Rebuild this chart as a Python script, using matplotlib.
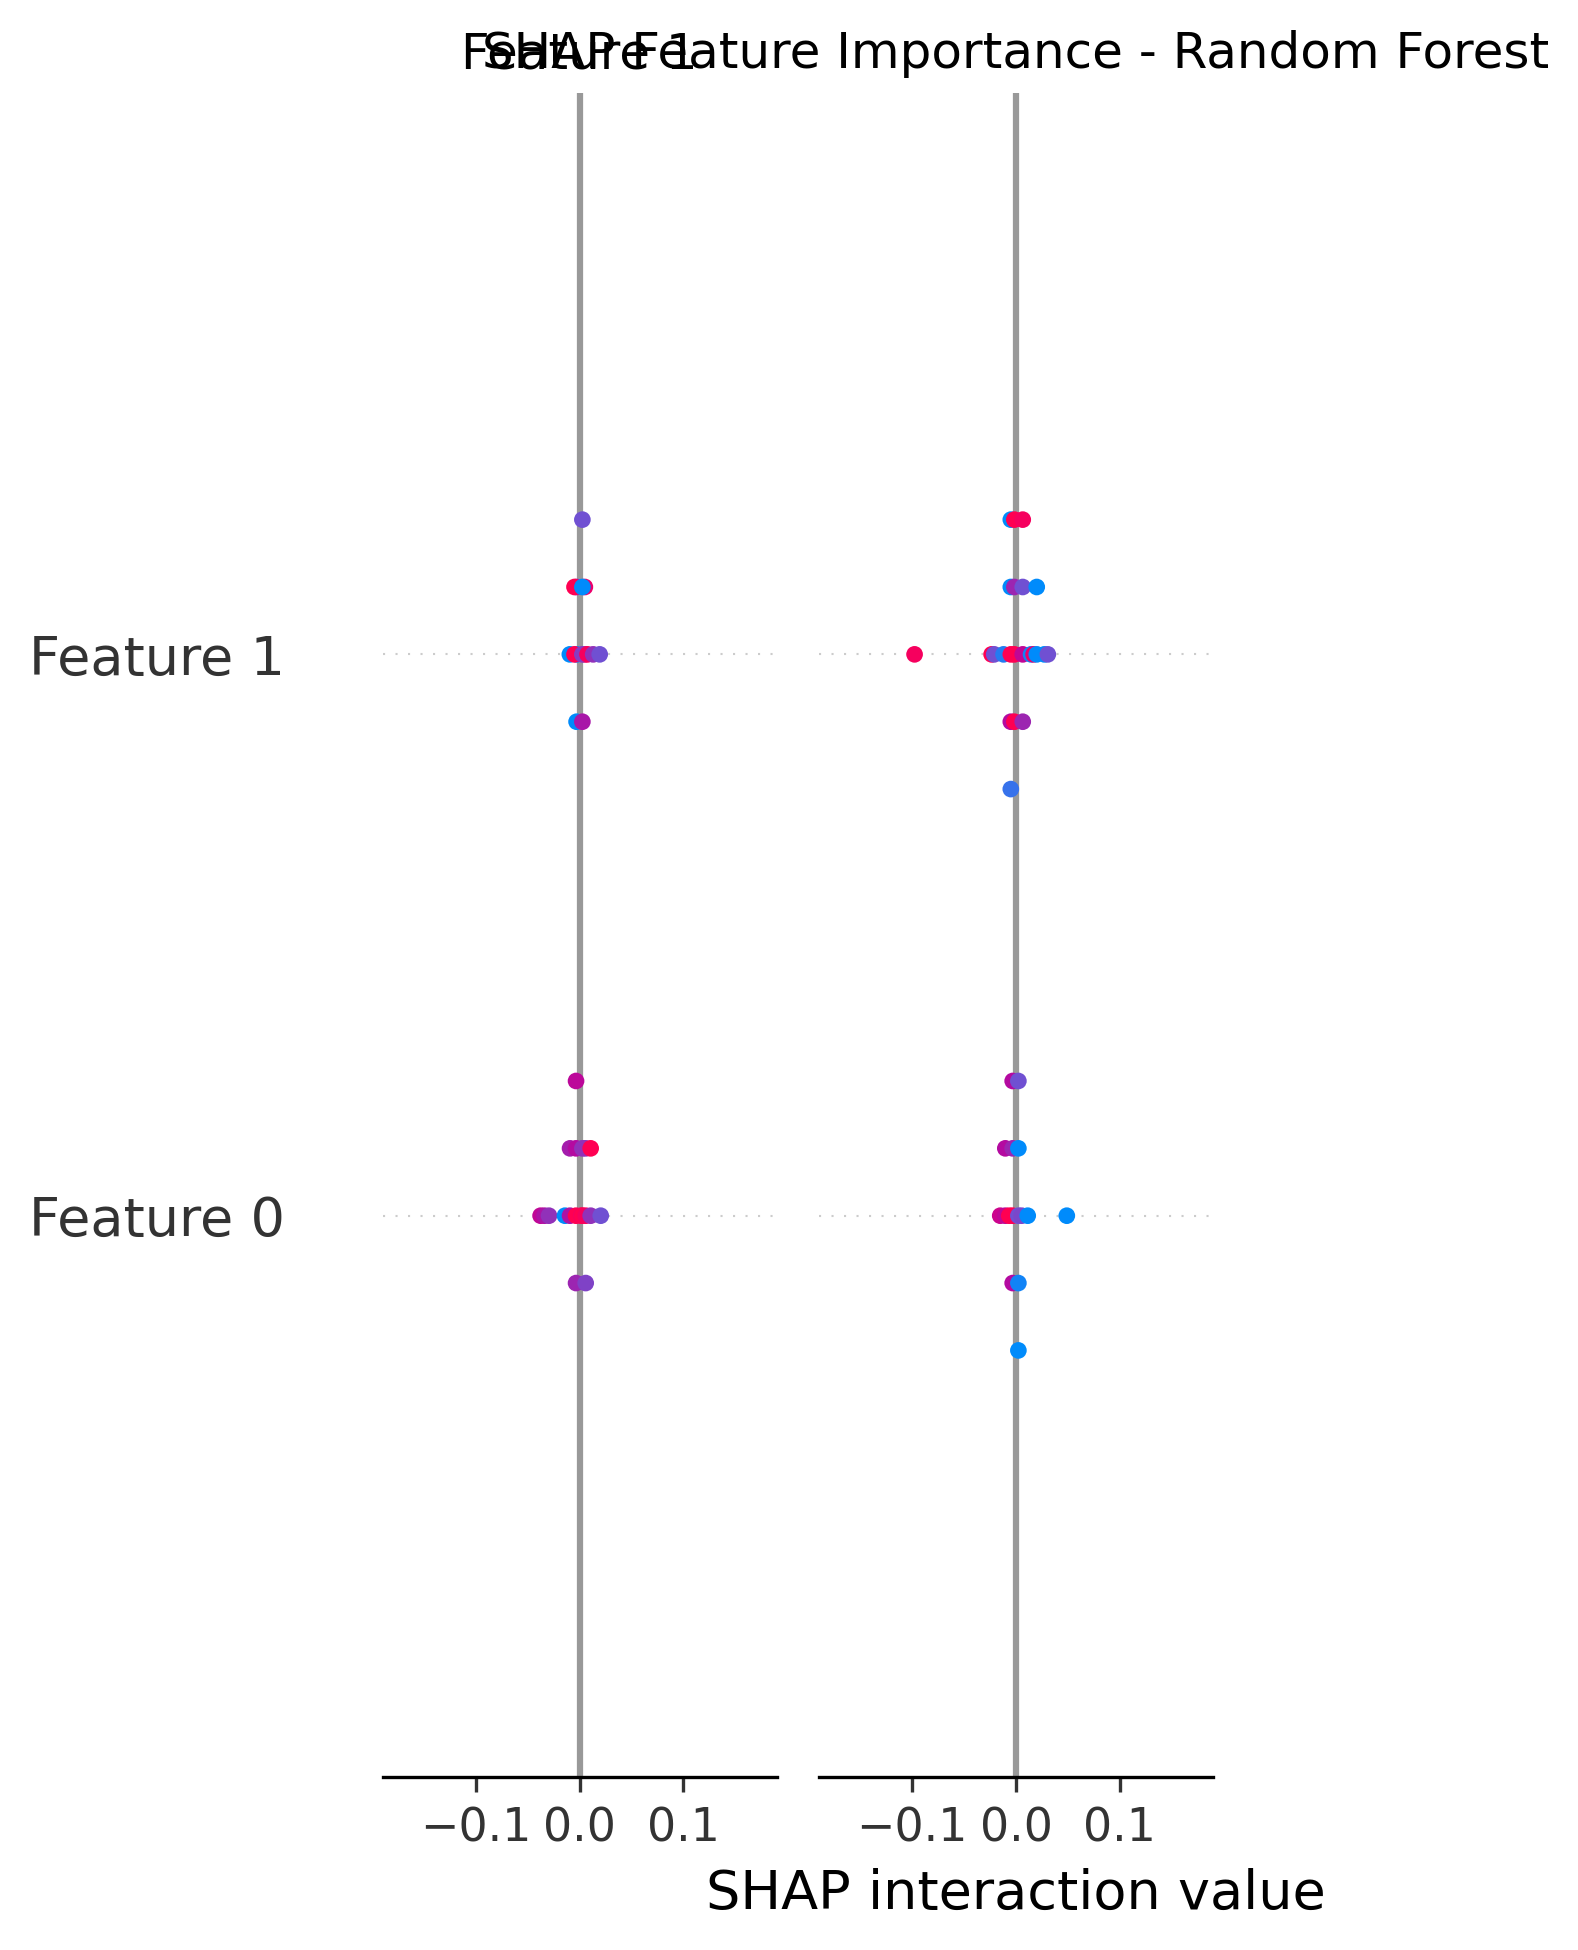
import numpy as np
import matplotlib
matplotlib.use('Agg')
import matplotlib.pyplot as plt
from matplotlib.colors import LinearSegmentedColormap

# row labels (bottom to top) and column titles
feature_names = ['Feature 0', 'Feature 1']
panel_titles = ['Feature 1', 'SHAP Feature Importance - Random Forest']
x_label = 'SHAP interaction value'
x_ticks = [-0.1, 0.0, 0.1]

# SHAP interaction values, one list per panel/row.
# Repeated values fall in the same bin and get stacked by the beeswarm.
left_f1_shap = [-0.0095, -0.003, -0.003, -0.003, -0.005, -0.005, 0.005, 0.005,
                0.0026, 0.0026, 0.0026, 0.0026, 0.0075, 0.013, 0.0193]
left_f1_color = [0.0, 0.0, 0.55, 0.0, 1.0, 1.0, 0.95, 0.9,
                 0.45, 0.0, 0.6, 0.35, 0.95, 0.5, 0.35]

left_f0_shap = [-0.0377, -0.034, -0.0296, -0.0142, -0.0093, -0.0093,
                -0.0035, -0.0035, -0.0035, -0.0035, 0.0015, 0.0026, 0.0026,
                0.0058, 0.0058, 0.0058, 0.0106, 0.0106, 0.0203]
left_f0_color = [0.7, 0.62, 0.5, 0.0, 0.62, 0.58,
                 1.0, 0.65, 0.55, 0.68, 0.95, 1.0, 0.5,
                 0.95, 0.5, 0.42, 0.5, 1.0, 0.35]

right_f1_shap = [-0.0978, -0.0235, -0.021, -0.012,
                 -0.005, -0.005, -0.005, -0.005, -0.005,
                 -0.0016, -0.0016, -0.0016, -0.0016,
                 0.0065, 0.0065, 0.0065, 0.0065,
                 0.0145, 0.017, 0.020, 0.020, 0.0274, 0.0307]
right_f1_color = [0.95, 1.0, 0.35, 0.1,
                  1.0, 0.0, 0.65, 0.0, 0.15,
                  1.0, 0.55, 1.0, 1.0,
                  0.7, 0.35, 0.55, 0.95,
                  0.05, 0.9, 0.0, 0.0, 0.0, 0.35]

right_f0_shap = [-0.0152, -0.0103, -0.0103, -0.0065,
                 -0.0032, -0.0032, -0.0032, -0.0032,
                 0.0023, 0.0023, 0.0023, 0.0023, 0.0023,
                 0.0055, 0.0113, 0.049]
right_f0_color = [0.75, 0.7, 0.65, 1.0,
                  1.0, 0.55, 0.65, 0.65,
                  0.35, 0.0, 0.05, 0.35, 0.0,
                  0.4, 0.0, 0.0]

# blue -> purple -> red, like shap's red_blue map
red_blue = LinearSegmentedColormap.from_list('red_blue', [
    (0.0, '#008bfb'), (0.2, '#4a6ae6'), (0.35, '#7050d2'), (0.5, '#9132b9'),
    (0.65, '#b40aa0'), (0.82, '#dc0080'), (1.0, '#ff0052')])


def beeswarm_offsets(shaps, row_height=0.4, nbins=100):
    shaps = np.asarray(shaps, dtype=float)
    quant = np.round(nbins * (shaps - shaps.min()) / (shaps.max() - shaps.min() + 1e-8))
    inds = np.argsort(quant, kind='stable')
    ys = np.zeros(len(shaps))
    layer = 0
    last_bin = -1
    for ind in inds:
        if quant[ind] != last_bin:
            layer = 0
        ys[ind] = np.ceil(layer / 2) * ((layer % 2) * 2 - 1)
        layer += 1
        last_bin = quant[ind]
    ys *= 0.9 * (row_height / np.max(ys + 1))
    return ys


def draw_panel(ax, rows, labels, title):
    ax.axvline(x=0, color='#999999', zorder=-1)
    for pos, (shaps, cvals) in enumerate(rows):
        ax.axhline(y=pos, color='#cccccc', lw=0.5, dashes=(1, 5), zorder=-1)
        ys = beeswarm_offsets(shaps)
        ax.scatter(shaps, pos + ys, c=cvals, cmap=red_blue, vmin=0, vmax=1,
                   s=16, linewidth=0, zorder=3)
    ax.xaxis.set_ticks_position('bottom')
    ax.yaxis.set_ticks_position('none')
    for side in ['right', 'top', 'left']:
        ax.spines[side].set_visible(False)
    ax.tick_params(color='#333333', labelcolor='#333333')
    ax.set_yticks(range(len(rows)))
    ax.set_yticklabels(labels, fontsize=13)
    ax.tick_params('y', length=20, width=0.5, which='major')
    ax.tick_params('x', labelsize=11)
    ax.set_ylim(-1, len(rows))
    ax.set_xlim(-0.19, 0.19)
    ax.set_xticks(x_ticks)
    ax.set_title(title, fontsize=12)


fig = plt.figure(figsize=(5.26, 6.5), dpi=300)
ax1 = fig.add_axes([0.2425, 0.0887, 0.2497, 0.8636])
ax2 = fig.add_axes([0.5190, 0.0887, 0.2497, 0.8636])

draw_panel(ax1, [(left_f0_shap, left_f0_color), (left_f1_shap, left_f1_color)],
           feature_names, panel_titles[0])
draw_panel(ax2, [(right_f0_shap, right_f0_color), (right_f1_shap, right_f1_color)],
           ['', ''], panel_titles[1])
ax2.set_xlabel(x_label, fontsize=13)

fig.savefig('out.png', dpi=300)
